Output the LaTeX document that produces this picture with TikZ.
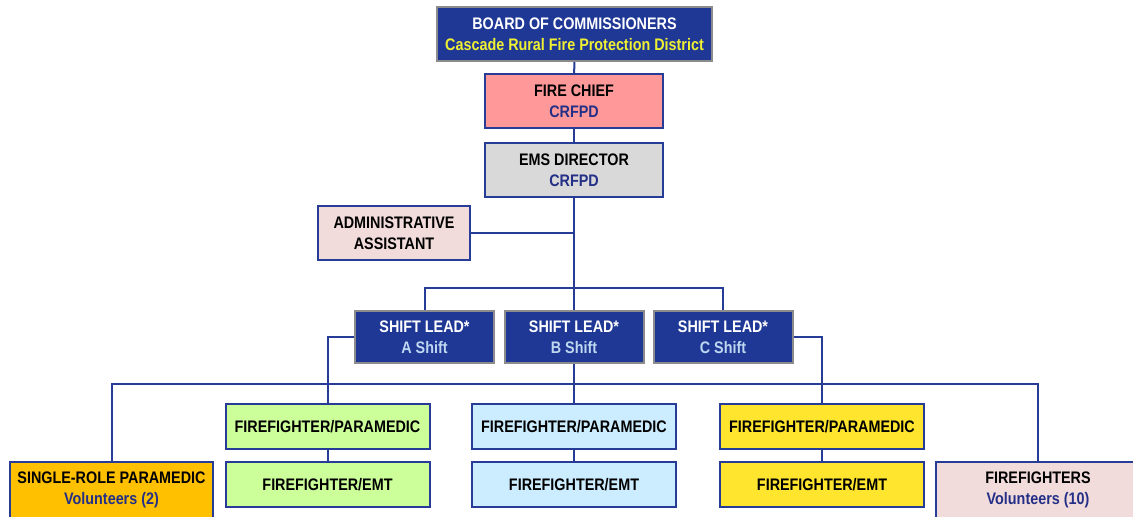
\documentclass[tikz,border=0pt]{standalone}
\usepackage{fontspec}
\setmainfont{Liberation Sans}[FakeStretch=0.86]
\usepackage{xcolor}
\usepackage{tikz}
\usetikzlibrary{positioning}
\definecolor{crnavy}{RGB}{31,56,150}
\definecolor{crline}{RGB}{38,60,150}
\definecolor{crgrayline}{RGB}{140,140,140}
\definecolor{crtext}{RGB}{36,48,135}
\definecolor{cryellowtext}{RGB}{240,240,50}
\definecolor{crskytext}{RGB}{190,215,240}
\definecolor{crpink}{RGB}{255,153,153}
\definecolor{crgray}{RGB}{217,217,217}
\definecolor{crblush}{RGB}{242,220,219}
\definecolor{crgreen}{RGB}{204,255,153}
\definecolor{crsky}{RGB}{204,236,255}
\definecolor{cryellow}{RGB}{255,229,46}
\definecolor{crgold}{RGB}{255,192,0}

\begin{document}
\begin{tikzpicture}[x=0.5pt, y=-0.5pt,
    box/.style={rectangle, draw=crline, line width=1pt, inner sep=0pt, align=center,
        font=\fontsize{8.35}{10.5}\selectfont\bfseries, minimum width=89pt, minimum height=27pt},
    navybox/.style={box, draw=crgrayline, fill=crnavy, text=white},
    crewbox/.style={box, minimum width=102pt, minimum height=22.5pt},
    volbox/.style={box, minimum width=102pt, minimum height=28pt},
    link/.style={draw=crline, line width=1pt}
]
    \useasboundingbox[fill=white] (0,0) rectangle (1133,516);

    % top of the chart
    \node[navybox, minimum width=137.5pt] (board) at (574.5,34) {BOARD OF COMMISSIONERS\\\textcolor{cryellowtext}{Cascade Rural Fire Protection District}};
    \node[box, fill=crpink] (chief) at (574,101) {FIRE CHIEF\\\textcolor{crtext}{CRFPD}};
    \node[box, fill=crgray] (ems) at (574,170) {EMS DIRECTOR\\\textcolor{crtext}{CRFPD}};
    \node[box, fill=crblush, minimum width=76pt] (admin) at (394,233) {ADMINISTRATIVE\\ASSISTANT};

    % shift leads
    \node[navybox, minimum width=69.5pt, minimum height=26pt] (sA) at (424.5,337) {SHIFT LEAD*\\\textcolor{crskytext}{A Shift}};
    \node[navybox, minimum width=69.5pt, minimum height=26pt] (sB) at (574,337) {SHIFT LEAD*\\\textcolor{crskytext}{B Shift}};
    \node[navybox, minimum width=69.5pt, minimum height=26pt] (sC) at (723,337) {SHIFT LEAD*\\\textcolor{crskytext}{C Shift}};

    % crews
    \node[crewbox, fill=crgreen] (fpA) at (327.5,426.5) {FIREFIGHTER/PARAMEDIC};
    \node[crewbox, fill=crgreen] (emtA) at (327.5,484.5) {FIREFIGHTER/EMT};
    \node[crewbox, fill=crsky] (fpB) at (574,426.5) {FIREFIGHTER/PARAMEDIC};
    \node[crewbox, fill=crsky] (emtB) at (574,484.5) {FIREFIGHTER/EMT};
    \node[crewbox, fill=cryellow] (fpC) at (822,426.5) {FIREFIGHTER/PARAMEDIC};
    \node[crewbox, fill=cryellow] (emtC) at (822,484.5) {FIREFIGHTER/EMT};

    % volunteers
    \node[volbox, fill=crgold, minimum width=101.5pt] (single) at (111.5,490) {SINGLE-ROLE PARAMEDIC\\\textcolor{crtext}{Volunteers (2)}};
    \node[volbox, fill=crblush] (vols) at (1038,490) {FIREFIGHTERS\\\textcolor{crtext}{Volunteers (10)}};

    \coordinate (bar) at (574,288);
    \coordinate (base) at (574,384);

    \draw[link] (board) -- (chief);
    \draw[link] (chief) -- (ems);
    \draw[link] (ems) -- (sB);
    \draw[link] (admin.east) -- (admin.east -| ems.south);
    \draw[link] (sA.north) |- (bar) -| (sC.north);
    \draw[link] (sA.west) -| (fpA.north);
    \draw[link] (sC.east) -| (fpC.north);
    \draw[link] (sB) -- (fpB);
    \draw[link] (single.north) |- (base) -| (vols.north);
    \draw[link] (fpA) -- (emtA);
    \draw[link] (fpB) -- (emtB);
    \draw[link] (fpC) -- (emtC);
\end{tikzpicture}
\end{document}
